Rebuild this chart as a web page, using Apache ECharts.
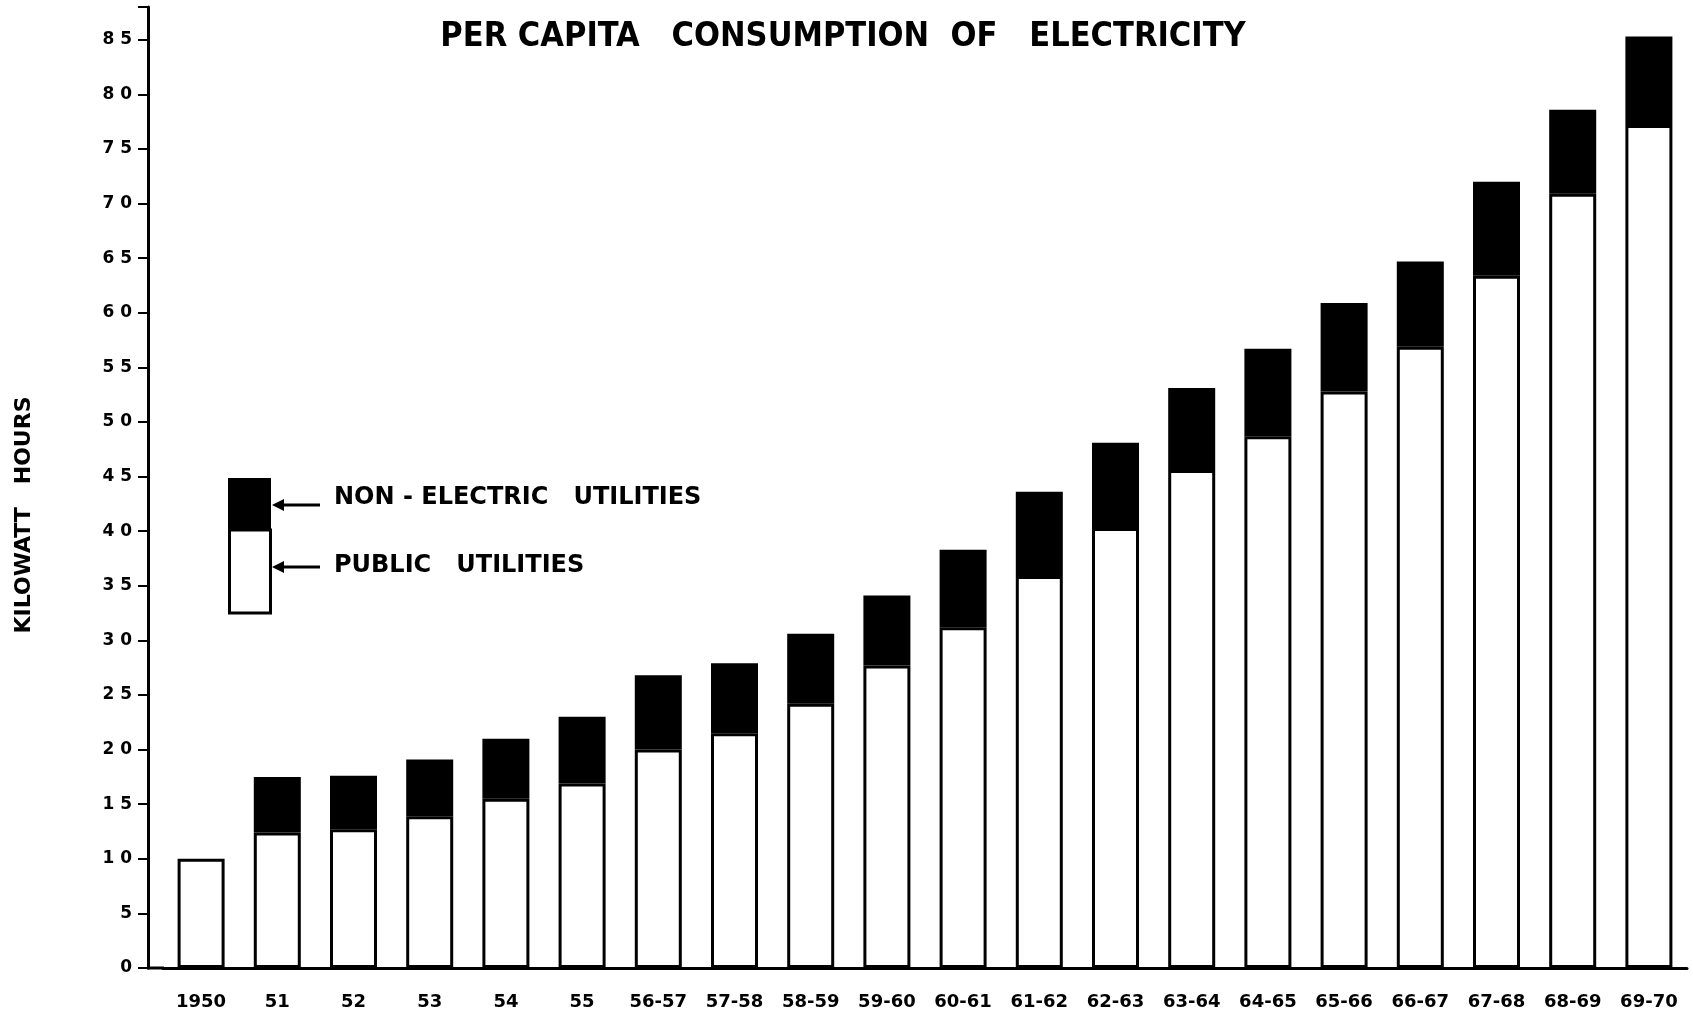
<!DOCTYPE html>
<html>
<head>
<meta charset="utf-8">
<title>Per Capita Consumption of Electricity</title>
<script src="https://cdn.jsdelivr.net/npm/echarts@6/dist/echarts.min.js"></script>
<style>
    html, body { margin: 0; padding: 0; background: #fff; }
    #chart { width: 1693px; height: 1022px; }
</style>
</head>
<body>
<div id="chart"></div>
<script>
// categories (years)
var years = ['1950', '51', '52', '53', '54', '55', '56-57', '57-58', '58-59', '59-60',
    '60-61', '61-62', '62-63', '63-64', '64-65', '65-66', '66-67', '67-68', '68-69', '69-70'];
// public utilities, kWh per capita
var publicUtil = [10.0, 12.4, 12.7, 13.9, 15.5, 16.9, 20.0, 21.5, 24.2, 27.7,
    31.2, 35.9, 40.3, 45.6, 48.7, 52.8, 56.9, 63.4, 70.9, 77.2];
// non-electric utilities (stacked on top)
var nonElectric = [null, 5.1, 4.9, 5.2, 5.5, 6.1, 6.8, 6.4, 6.4, 6.4,
    7.1, 7.7, 7.8, 7.5, 8.0, 8.1, 7.8, 8.6, 7.7, 8.1];

var myChart = echarts.init(document.getElementById('chart'));
var fontMain = 'DejaVu Sans';

var option = {
    backgroundColor: '#fff',
    animation: false,
    title: {
        text: 'PER CAPITA   CONSUMPTION  OF   ELECTRICITY',
        left: 838,
        top: 15,
        textAlign: 'center',
        textStyle: {
            fontFamily: 'DejaVu Sans Condensed',
            fontWeight: 'bold',
            fontSize: 34,
            color: '#000'
        }
    },
    grid: {
        left: 163,
        right: 6,
        top: 7,
        bottom: 54
    },
    xAxis: {
        type: 'category',
        data: years,
        axisLine: { lineStyle: { color: '#000', width: 3 } },
        axisTick: { show: false },
        axisLabel: {
            color: '#000',
            fontFamily: fontMain,
            fontWeight: 'bold',
            fontSize: 18,
            margin: 25
        }
    },
    yAxis: {
        type: 'value',
        min: 0,
        max: 88,
        interval: 5,
        offset: 15,
        splitLine: { show: false },
        axisLine: { show: true, lineStyle: { color: '#000', width: 3 } },
        axisTick: { show: true, length: 10, lineStyle: { color: '#000', width: 2 } },
        axisLabel: {
            color: '#000',
            fontFamily: fontMain,
            fontWeight: 'bold',
            fontSize: 17,
            margin: 16,
            formatter: function (v) {
                if (v % 5 !== 0) return '';
                return String(v).split('').join(' ');
            }
        }
    },
    graphic: [
        // y axis title, sits a bit below the axis middle like the original
        {
            type: 'text', x: 24, y: 515, rotation: Math.PI / 2,
            style: {
                text: 'KILOWATT   HOURS', fill: '#000', font: 'bold 22px "DejaVu Sans"',
                align: 'center', verticalAlign: 'middle'
            }
        },
        // close the corner between offset y axis and x axis
        { type: 'line', shape: { x1: 147, y1: 968, x2: 164, y2: 968 }, style: { stroke: '#000', lineWidth: 3 } },
        // legend swatch
        { type: 'rect', shape: { x: 228, y: 478, width: 43, height: 52 }, style: { fill: '#000' } },
        { type: 'rect', shape: { x: 229.5, y: 530, width: 41, height: 83 }, style: { fill: '#fff', stroke: '#000', lineWidth: 3 } },
        { type: 'line', shape: { x1: 276, y1: 505, x2: 320, y2: 505 }, style: { stroke: '#000', lineWidth: 3 } },
        { type: 'polygon', shape: { points: [[272, 505], [284, 499], [284, 511]] }, style: { fill: '#000' } },
        { type: 'line', shape: { x1: 276, y1: 567, x2: 320, y2: 567 }, style: { stroke: '#000', lineWidth: 3 } },
        { type: 'polygon', shape: { points: [[272, 567], [284, 561], [284, 573]] }, style: { fill: '#000' } },
        {
            type: 'text', left: 334, top: 486,
            style: { text: 'NON - ELECTRIC   UTILITIES', fill: '#000', font: 'bold 24px "DejaVu Sans"' }
        },
        {
            type: 'text', left: 334, top: 554,
            style: { text: 'PUBLIC   UTILITIES', fill: '#000', font: 'bold 24px "DejaVu Sans"' }
        }
    ],
    series: []
};

option.series.push({
    name: 'PUBLIC UTILITIES',
    type: 'bar',
    stack: 'total',
    barWidth: 47,
    data: publicUtil,
    itemStyle: { color: '#fff', borderColor: '#000', borderWidth: 3 }
});
option.series.push({
    name: 'NON-ELECTRIC UTILITIES',
    type: 'bar',
    stack: 'total',
    barWidth: 47,
    data: nonElectric,
    itemStyle: { color: '#000', borderColor: '#000', borderWidth: 3 }
});

myChart.setOption(option);
</script>
</body>
</html>
